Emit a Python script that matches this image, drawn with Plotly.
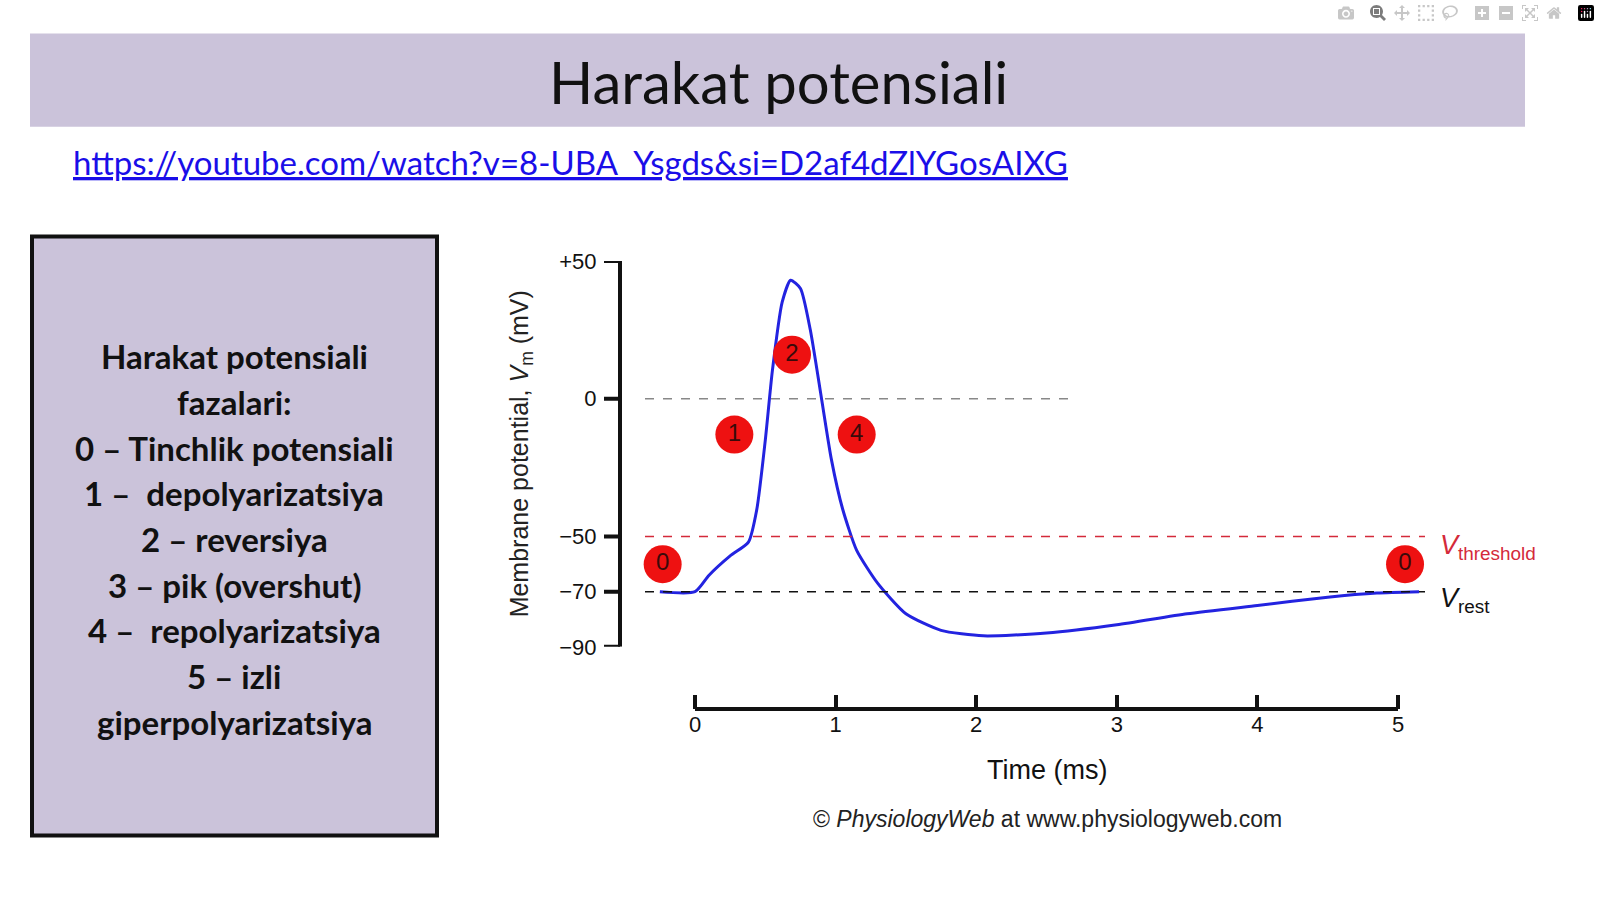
import plotly.graph_objects as go

W, H = 1600, 900
# data
t_vals = [-0.25, 0.0, 0.1, 0.25, 0.38, 0.44, 0.5, 0.55, 0.62, 0.68, 0.75, 0.82, 0.9, 0.97, 1.05, 1.15, 1.3, 1.5, 1.75, 2.05, 2.5, 3.0, 3.5, 4.0, 4.5, 4.85, 5.15]
v_vals = [-70, -70, -64, -57, -52, -40, -15, 10, 35, 43, 40, 25, 0, -22, -40, -55, -67, -78, -84, -86, -85, -82, -78, -75, -72, -70.5, -70]
y_ticks = [50, 0, -50, -70, -90]
y_ticklabels = ["+50", "0", "\u221250", "\u221270", "\u221290"]
x_ticks = [0, 1, 2, 3, 4, 5]
phase_labels = ["0", "1", "2", "3", "4", "5", "0"]
phase_t = [-0.23, 0.28, 0.69, 0.67, 1.15, 2.05, 5.05]
phase_v = [-60, -13, 16, 52, -13, -94, -60]
legend_lines = ["Harakat potensiali", "fazalari:", "0 \u2013 Tinchlik potensiali", "1 \u2013  depolyarizatsiya",
                "2 \u2013 reversiya", "3 \u2013 pik (overshut)", "4 \u2013  repolyarizatsiya", "5 \u2013 izli", "giperpolyarizatsiya"]

def px_x(p): return p / W
def px_y(p): return 1 - p / H

x0px, x5px = 695, 1398
sx = (x5px - x0px) / 5
dom = [620, 1440]
xr = [(dom[0] - x0px) / sx, (dom[1] - x0px) / sx]

fig = go.Figure()
fig.add_trace(go.Scatter(x=t_vals, y=v_vals, mode="lines", line=dict(color="#2323e0", width=3, shape="spline", smoothing=0.6),
                         hoverinfo="skip", showlegend=False, cliponaxis=False))
fig.add_trace(go.Scatter(x=phase_t, y=phase_v, mode="markers+text", text=phase_labels, cliponaxis=False,
                         marker=dict(size=38, color="#ee1111", line=dict(width=0)),
                         textfont=dict(family="Liberation Sans", size=24, color="#3a0a0a"),
                         textposition="middle center", showlegend=False, hoverinfo="skip"))
fig.add_trace(go.Scatter(x=x_ticks, y=[0]*6, xaxis="x2", yaxis="y2", mode="markers", marker=dict(opacity=0), showlegend=False, hoverinfo="skip"))

fig.update_layout(
    width=W, height=H, margin=dict(l=0, r=0, t=0, b=0), paper_bgcolor="white", plot_bgcolor="rgba(0,0,0,0)",
    xaxis=dict(domain=[px_x(dom[0]), px_x(dom[1])], range=xr, visible=False, fixedrange=True),
    yaxis=dict(domain=[px_y(653), px_y(256)], range=[-90, 50], tickvals=y_ticks, ticktext=y_ticklabels,
               showgrid=False, zeroline=False, showline=False, ticks="outside", ticklen=0,
               tickfont=dict(family="Liberation Sans", size=22, color="#111"), ticklabelstandoff=18),
    xaxis2=dict(domain=[px_x(dom[0]), px_x(dom[1])], range=xr, anchor="y2", tickvals=x_ticks,
                ticks="inside", ticklen=14, tickwidth=4, tickcolor="#111", showline=False, showgrid=False, zeroline=False,
                tickfont=dict(family="Liberation Sans", size=22, color="#111")),
    yaxis2=dict(domain=[px_y(717), px_y(700)], range=[0, 1], visible=False),
)

shapes = []
shapes.append(dict(type="rect", xref="paper", yref="paper", x0=px_x(30), x1=px_x(1525), y0=px_y(118), y1=px_y(22),
                   fillcolor="#cbc3da", line=dict(width=0), layer="below"))
shapes.append(dict(type="rect", xref="paper", yref="paper", x0=px_x(32), x1=px_x(437), y0=px_y(847), y1=px_y(231),
                   fillcolor="#cbc3da", line=dict(width=4, color="#111"), layer="below"))
shapes.append(dict(type="line", xref="paper", yref="y", x0=px_x(620), x1=px_x(620), y0=-90, y1=50, line=dict(color="#111", width=4)))
for v in y_ticks:
    shapes.append(dict(type="line", xref="paper", yref="y", x0=px_x(604), x1=px_x(620), y0=v, y1=v, line=dict(color="#111", width=4)))
shapes.append(dict(type="line", xref="x2", yref="paper", x0=0, x1=5, y0=px_y(717), y1=px_y(717), line=dict(color="#111", width=4)))
t_left = (645 - x0px) / sx
t_right = (1425 - x0px) / sx
shapes.append(dict(type="line", xref="x", yref="y", x0=t_left, x1=(1070 - x0px) / sx, y0=0, y1=0, line=dict(color="#888", width=1.5, dash="dash")))
shapes.append(dict(type="line", xref="x", yref="y", x0=t_left, x1=t_right, y0=-50, y1=-50, line=dict(color="#d42a3a", width=1.5, dash="dash")))
shapes.append(dict(type="line", xref="x", yref="y", x0=t_left, x1=t_right, y0=-70, y1=-70, line=dict(color="#111", width=1.5, dash="dash")))
fig.update_layout(shapes=shapes)

def A(x, y, text, size, color="#111", family="Lato", xanchor="center", **kw):
    return dict(x=px_x(x), y=px_y(y), xref="paper", yref="paper", text=text, showarrow=False,
                xanchor=xanchor, yanchor="middle", font=dict(family=family, size=size, color=color), **kw)

ann = []
ann.append(A(778, 72, "Harakat potensiali", 58))
ann.append(A(71, 154, "<u>https://youtube.com/watch?v=8-UBA_Ysgds&si=D2af4dZlYGosAIXG</u>", 33, "#1a0ee8", xanchor="left"))
for i, line in enumerate(legend_lines):
    ann.append(A(234, 354 + 47 * i, "<b>" + line + "</b>", 33))
ann.append(A(521, 455, "Membrane potential, <i>V</i><sub>m</sub> (mV)", 25, "#222", "Liberation Sans", textangle=-90))
ann.append(A(1047, 780, "Time (ms)", 27, "#111", "Liberation Sans"))
ann.append(A(1047, 830, "\u00a9 <i>PhysiologyWeb</i> at www.physiologyweb.com", 23, "#222", "Liberation Sans"))
ann.append(A(1438, 550, "<i>V</i><sub>threshold</sub>", 27, "#d42a3a", "Liberation Sans", xanchor="left"))
ann.append(A(1438, 605, "<i>V</i><sub>rest</sub>", 27, "#111", "Liberation Sans", xanchor="left"))
fig.update_layout(annotations=ann)

fig.write_html("out.html", post_script="document.body.style.margin='0';document.body.style.overflow='hidden';")
